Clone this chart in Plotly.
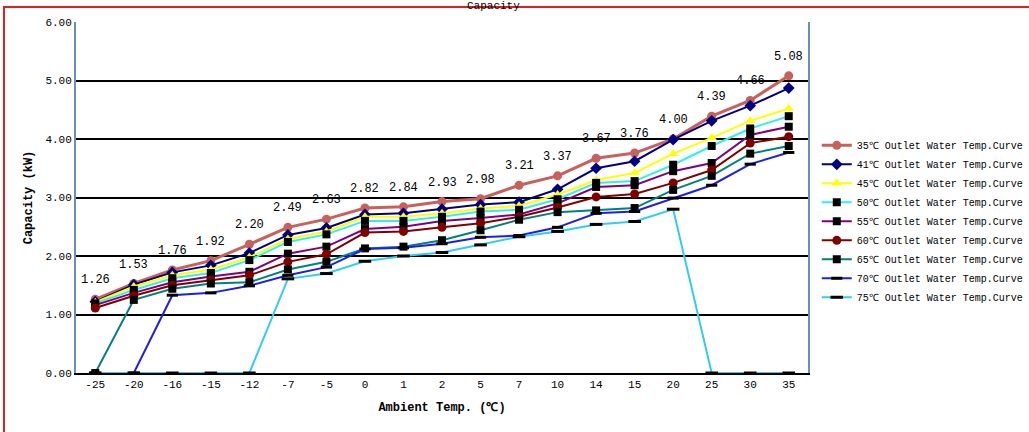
import plotly.graph_objects as go

categories = ["-25", "-20", "-16", "-15", "-12", "-7", "-5", "0", "1", "2", "5", "7", "10", "14", "15", "20", "25", "30", "35"]

s35 = [1.26, 1.53, 1.76, 1.92, 2.20, 2.49, 2.63, 2.82, 2.84, 2.93, 2.98, 3.21, 3.37, 3.67, 3.76, 4.00, 4.39, 4.66, 5.08]
s41 = [1.22, 1.51, 1.72, 1.84, 2.05, 2.36, 2.48, 2.71, 2.73, 2.80, 2.88, 2.92, 3.14, 3.50, 3.62, 3.99, 4.31, 4.57, 4.87]
s45 = [1.21, 1.48, 1.67, 1.77, 1.98, 2.29, 2.42, 2.67, 2.67, 2.73, 2.81, 2.86, 3.05, 3.30, 3.42, 3.75, 4.02, 4.31, 4.52]
s50 = [1.19, 1.42, 1.62, 1.71, 1.93, 2.24, 2.37, 2.60, 2.60, 2.67, 2.76, 2.79, 2.97, 3.25, 3.28, 3.56, 3.88, 4.18, 4.39]
s55 = [1.16, 1.37, 1.55, 1.65, 1.73, 2.04, 2.16, 2.46, 2.50, 2.60, 2.65, 2.71, 2.90, 3.18, 3.21, 3.45, 3.59, 4.07, 4.21]
s60 = [1.11, 1.32, 1.50, 1.59, 1.67, 1.90, 2.03, 2.40, 2.42, 2.49, 2.56, 2.67, 2.83, 3.01, 3.06, 3.25, 3.47, 3.93, 4.04]
s65 = [0.00, 1.25, 1.44, 1.53, 1.55, 1.77, 1.90, 2.13, 2.16, 2.27, 2.44, 2.62, 2.75, 2.78, 2.82, 3.13, 3.37, 3.75, 3.88]
s70 = [0.00, 0.00, 1.33, 1.37, 1.49, 1.67, 1.81, 2.12, 2.14, 2.21, 2.32, 2.35, 2.49, 2.73, 2.76, 2.99, 3.21, 3.57, 3.77]
s75 = [0.00, 0.00, 0.00, 0.00, 0.00, 1.61, 1.70, 1.91, 2.00, 2.06, 2.19, 2.33, 2.42, 2.54, 2.59, 2.80, 0.00, 0.00, 0.00]

names = ["35℃ Outlet Water Temp.Curve", "41℃ Outlet Water Temp.Curve", "45℃ Outlet Water Temp.Curve",
         "50℃ Outlet Water Temp.Curve", "55℃ Outlet Water Temp.Curve", "60℃ Outlet Water Temp.Curve",
         "65℃ Outlet Water Temp.Curve", "70℃ Outlet Water Temp.Curve", "75℃ Outlet Water Temp.Curve"]
y_ticks = [0, 1, 2, 3, 4, 5, 6]

series = [s35, s41, s45, s50, s55, s60, s65, s70, s75]
styles = [
    dict(color="#C8605C", width=3, symbol="circle", msize=9, mcolor="#C8605C", mline=None),
    dict(color="#000080", width=2, symbol="diamond", msize=9, mcolor="#000080", mline=None),
    dict(color="#FFFF00", width=2, symbol="triangle-up", msize=9, mcolor="#FFFF00", mline=None),
    dict(color="#33EEEE", width=2, symbol="square", msize=8, mcolor="#000000", mline=None),
    dict(color="#800080", width=2, symbol="square", msize=8, mcolor="#000000", mline=None),
    dict(color="#800000", width=2, symbol="circle", msize=9, mcolor="#800000", mline=None),
    dict(color="#008080", width=2, symbol="square", msize=8, mcolor="#000000", mline=None),
    dict(color="#1E1EE6", width=2, symbol="line-ew", msize=8, mcolor="#000000", mline=3),
    dict(color="#33CCEE", width=2, symbol="line-ew", msize=9, mcolor="#000000", mline=3),
]

fig = go.Figure()
for name, ys, st in zip(names, series, styles):
    marker = dict(symbol=st["symbol"], size=st["msize"], color=st["mcolor"])
    if st["mline"]:
        marker["line"] = dict(color="#000000", width=st["mline"])
    fig.add_trace(go.Scatter(
        x=categories, y=ys, name=name, mode="lines+markers",
        line=dict(color=st["color"], width=st["width"]),
        marker=marker,
    ))

# data labels for the 35°C series (category index positions)
for i, v in enumerate(s35):
    fig.add_annotation(x=i, y=v, text=f"{v:.2f}", showarrow=False,
                       yshift=19, xshift=0,
                       font=dict(family="Liberation Mono", size=12, color="#000000"))

# partially visible title
fig.add_annotation(xref="paper", yref="paper", x=0.57, y=1.0, yshift=24,
                   text="Capacity", showarrow=False,
                   font=dict(family="Liberation Mono", size=11, color="#000000"))

# red outer frame
fig.add_shape(type="rect", xref="paper", yref="paper",
              x0=(4 - 76) / 732, x1=(1035 - 76) / 732,
              y0=(373 - 440) / 351, y1=(373 - 7) / 351,
              line=dict(color="#E02020", width=2), layer="below")

fig.update_layout(
    width=1029, height=432,
    margin=dict(l=76, r=221, t=22, b=59, autoexpand=False),
    paper_bgcolor="white", plot_bgcolor="white",
    font=dict(family="Liberation Mono", size=11, color="#000000"),
    showlegend=True,
    legend=dict(x=1.012, xanchor="left", y=0.69, yanchor="top",
                font=dict(family="Liberation Mono", size=10, color="#000000"),
                bgcolor="rgba(0,0,0,0)", itemwidth=30, tracegroupgap=0),
)
fig.update_xaxes(
    type="category", categoryorder="array", categoryarray=categories,
    range=[-0.5, len(categories) - 0.5], automargin=False,
    showgrid=False, showline=True, linecolor="#000000", linewidth=2,
    ticks="", tickfont=dict(family="Liberation Mono", size=11),
    title=dict(text="<b>Ambient Temp. (℃)</b>", font=dict(family="Liberation Mono", size=12), standoff=12),
    mirror=False, zeroline=False,
)
fig.update_yaxes(
    range=[0, 6], tickvals=y_ticks, tickformat=".2f", automargin=False,
    showgrid=True, gridcolor="#000000", gridwidth=2,
    showline=True, linecolor="#6A8FBF", linewidth=2, mirror=True,
    zeroline=False, ticks="", tickfont=dict(family="Liberation Mono", size=11),
    title=dict(text="<b>Capacity (kW)</b>", font=dict(family="Liberation Mono", size=12), standoff=10),
)

fig.write_html("out.html", config={"displayModeBar": False},
               post_script="document.body.style.margin='0';document.body.style.overflow='hidden';")
